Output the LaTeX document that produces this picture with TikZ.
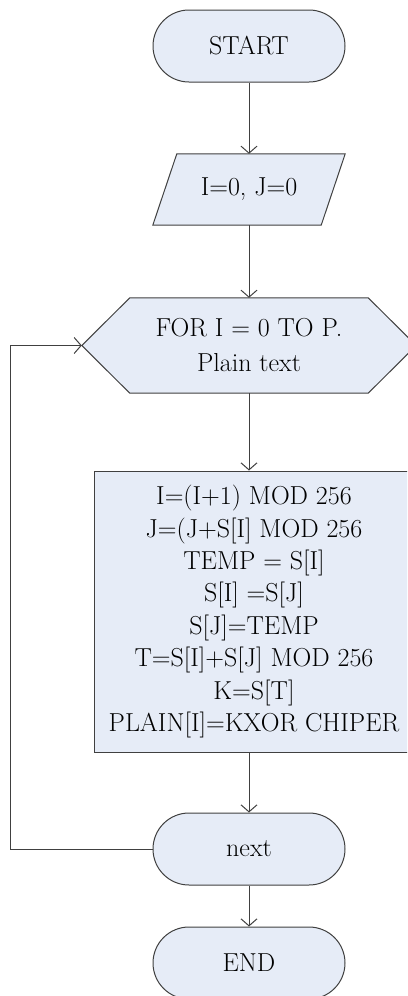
\documentclass[tikz,border=0pt]{standalone}
\usetikzlibrary{calc,arrows.meta,backgrounds}
\definecolor{flowfill}{RGB}{230,236,247}
\definecolor{flowline}{RGB}{64,64,64}

\begin{document}
\begin{tikzpicture}[x=1pt,y=1pt,
    every node/.style={font=\fontsize{26}{32.4}\selectfont,inner sep=0pt,align=center},
    terminal/.style={draw=flowline,line width=1pt,fill=flowfill,rounded corners=36pt,
                     minimum width=192pt,minimum height=72pt},
    shapeline/.style={draw=flowline,line width=1pt,fill=flowfill},
    flow/.style={draw=flowline,line width=1pt,-{Straight Barb[length=7pt,width=16pt]}}]
  \useasboundingbox (0,0) rectangle (407,-996);
  \clip (0,0) rectangle (407,-996);

  \node[terminal] (start) at (249,-46) {START};
  \node[minimum width=168pt,minimum height=71pt] (init) at (249,-189.5) {I=0, J=0};
  \node[minimum width=238pt,minimum height=95pt] (loop) at (249,-345.5)
        {FOR I = 0 TO P.\\[2.6pt]Plain text};
  \node[shapeline,minimum width=320pt,minimum height=281pt] (body) at (254,-611.5)
        {I=(I+1) MOD 256\\J=(J+S[I] MOD 256\\TEMP = S[I]\\S[I] =S[J]\\S[J]=TEMP\\
         T=S[I]+S[J] MOD 256\\K=S[T]\\PLAIN[I]=KXOR CHIPER};
  \node[terminal] (next) at (249,-849) {next};
  \node[terminal] (end) at (249,-963) {END};

  \coordinate (loopin) at ([xshift=-48pt]loop.west);
  \coordinate (loopx) at (10,0);

  \begin{scope}[on background layer]
    \path[shapeline] ([xshift=12pt]init.north west) -- ([xshift=12pt]init.north east) --
                     ([xshift=-12pt]init.south east) -- ([xshift=-12pt]init.south west) -- cycle;
    \path[shapeline] (loop.north west) -- (loop.north east) -- ([xshift=48pt]loop.east) --
                     (loop.south east) -- (loop.south west) -- (loopin) -- cycle;
  \end{scope}

  \draw[flow] (start) -- (init);
  \draw[flow] (init) -- (loop.north -| init);
  \draw[flow] (loop.south -| init) -- (body.north -| init);
  \draw[flow] (body.south -| next) -- (next);
  \draw[flow] (next) -- (end);
  \draw[flow] (next.west) -- (next.west -| loopx) |- (loopin);
\end{tikzpicture}
\end{document}
